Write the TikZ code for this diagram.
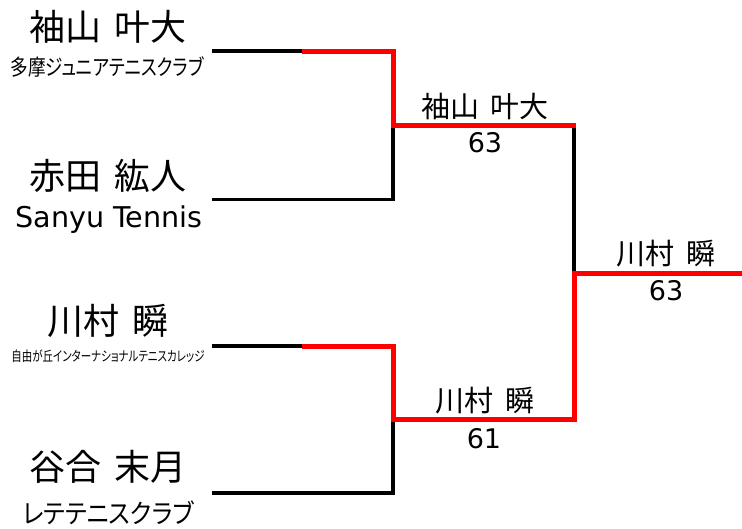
\documentclass[tikz,border=0pt]{standalone}
\usepackage{fontspec}
\setmainfont{Noto Sans CJK JP}
\newfontfamily\latinf{DejaVu Sans}
\newfontfamily\jpp[RawFeature=+palt]{Noto Sans CJK JP}
\newcommand{\wsp}{\hspace{0.38em}}
\begin{document}
\begin{tikzpicture}[x=1pt,y=-1pt,
  loser/.style={line width=3.5pt, black, line join=miter},
  winner/.style={line width=5pt, red, line join=miter},
  bigname/.style={inner sep=0pt, font=\fontsize{36}{40}\selectfont},
  club/.style={inner sep=0pt},
  wname/.style={inner sep=0pt, font=\fontsize{29}{32}\selectfont},
  score/.style={inner sep=0pt, font=\latinf\fontsize{27}{30}\selectfont}]
\useasboundingbox (0,0) rectangle (742,528);
% players
\node[bigname] (p1) at (108,27) {袖山\wsp 叶大};
\node[club] (c1) at (107,67) {\scalebox{0.8}[1]{\jpp\fontsize{22}{24}\selectfont 多摩ジュニアテニスクラブ}};
\node[bigname] (p2) at (108,176) {赤田\wsp 紘人};
\node[club] (c2) at (109,220) {\latinf\fontsize{28.6}{30}\selectfont Sanyu Tennis};
\node[bigname] (p3) at (108,321) {川村\wsp 瞬};
\node[club] (c3) at (108,356) {\scalebox{0.76}[1]{\jpp\fontsize{13.8}{15}\selectfont 自由が丘インターナショナルテニスカレッジ}};
\node[bigname] (p4) at (108,467) {谷合\wsp 末月};
\node[club] (c4) at (108,512.5) {\scalebox{0.9}[1]{\jpp\fontsize{26.5}{28}\selectfont レテテニスクラブ}};
% bracket points
\coordinate (a1) at (212,51);
\coordinate (a1m) at (302,51);
\coordinate (a1r) at (393,51);
\coordinate (a2) at (212,199.5);
\coordinate (a2r) at (393,199.5);
\coordinate (m1) at (393,125);
\coordinate (m1r) at (575.5,125);
\coordinate (m1b) at (574,125);
\coordinate (a3) at (212,346);
\coordinate (a3m) at (302,346);
\coordinate (a3r) at (393,346);
\coordinate (a4) at (212,493);
\coordinate (a4r) at (393,493);
\coordinate (m2) at (393,419);
\coordinate (m2r) at (574,419);
\coordinate (f) at (574,273);
\coordinate (fe) at (742,273);
% black lines
\draw[loser] (a1) -- (a1m);
\draw[loser] (a2) -- (a2r) -- (m1);
\draw[loser] (m1b) -- (f);
\draw[loser] (a3) -- (a3m);
\draw[loser] (a4) -- (a4r) -- (m2);
% red winner lines
\draw[winner] (a1m) -- (a1r) -- (m1) -- (m1r);
\draw[winner] (a3m) -- (a3r) -- (m2) -- (m2r) -- (f) -- (fe);
% results
\node[wname] (w1) at (485,106) {袖山\wsp 叶大};
\node[score] (s1) at (485,143) {63};
\node[wname] (w2) at (485,401) {川村\wsp 瞬};
\node[score] (s2) at (484,439) {61};
\node[wname] (w3) at (666,254) {川村\wsp 瞬};
\node[score] (s3) at (666,291) {63};
\end{tikzpicture}
\end{document}
